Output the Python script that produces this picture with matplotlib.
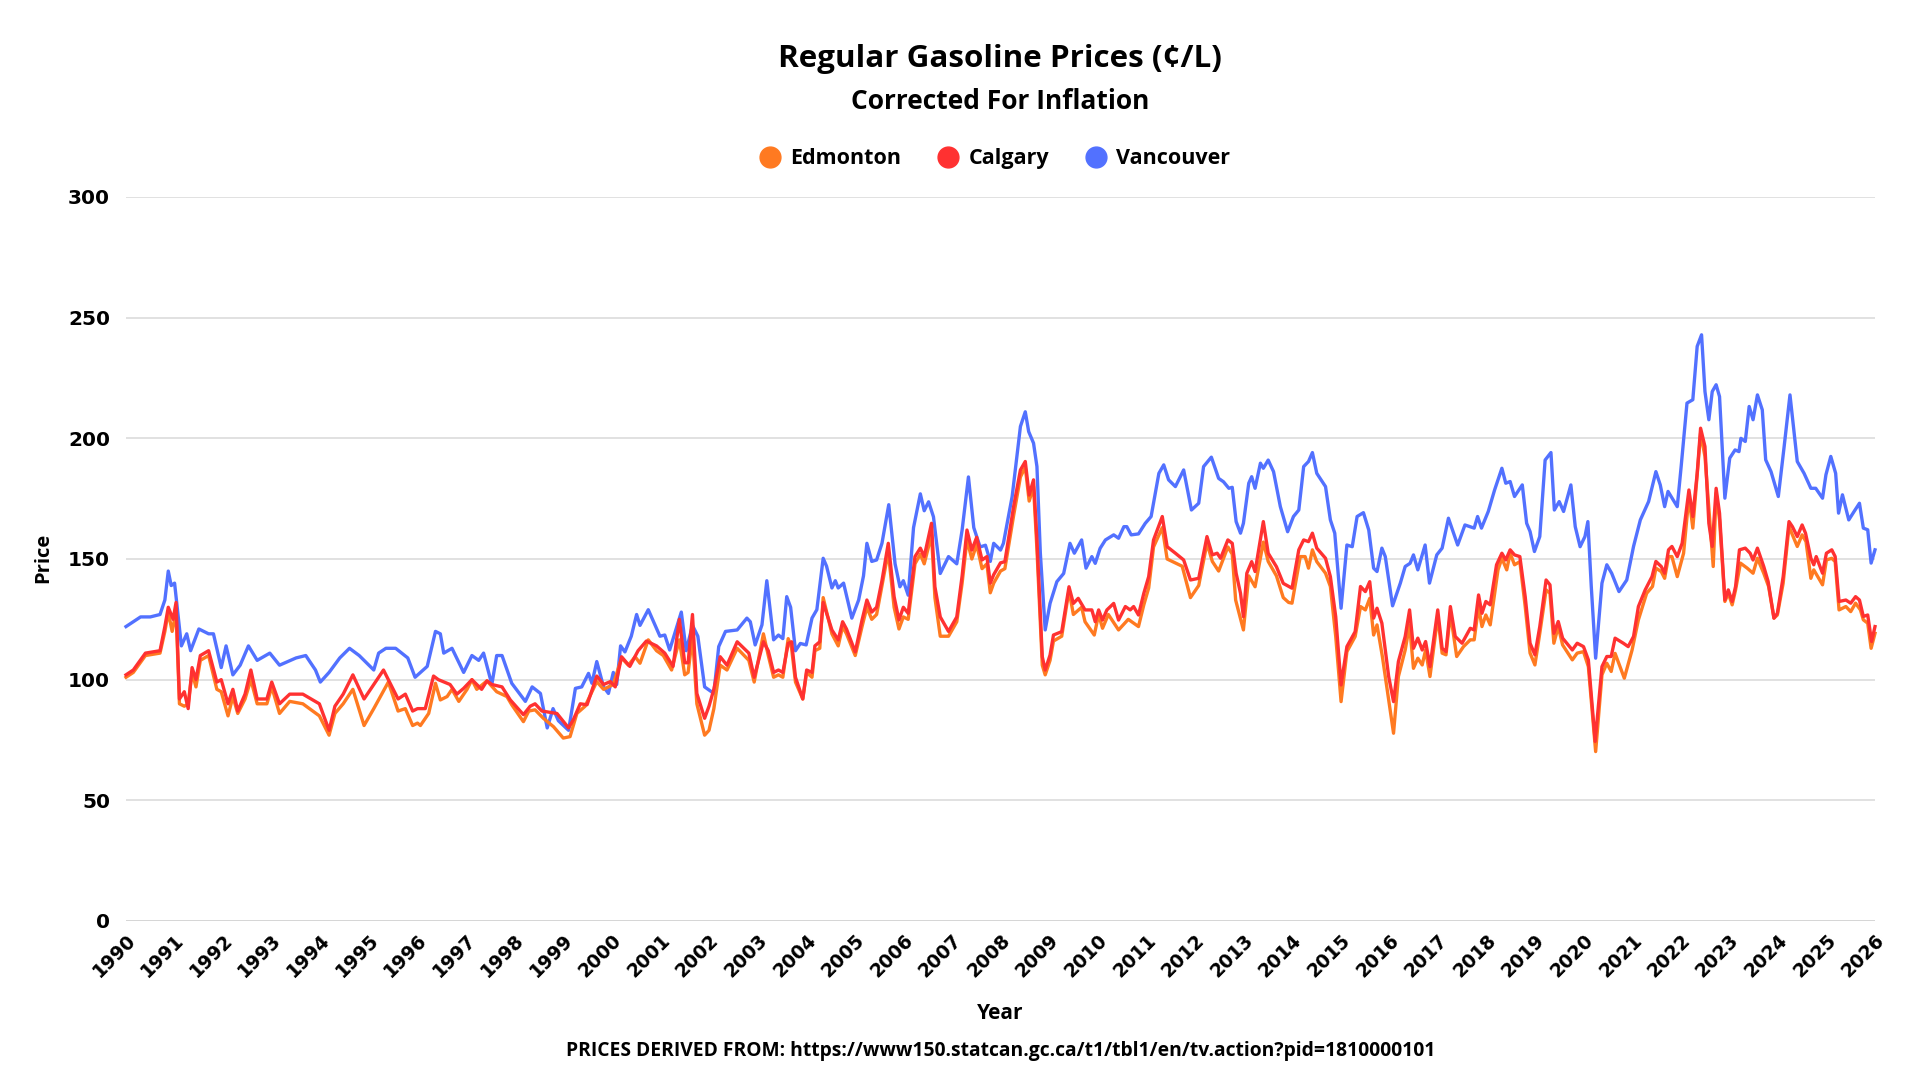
import numpy as np
import matplotlib.pyplot as plt
from matplotlib.lines import Line2D

plt.rcParams['font.family'] = ['Open Sans', 'DejaVu Sans']

title = "Regular Gasoline Prices (¢/L)"
subtitle = "Corrected For Inflation"
source = "PRICES DERIVED FROM: https://www150.statcan.gc.ca/t1/tbl1/en/tv.action?pid=1810000101"
cities = ["Edmonton", "Calgary", "Vancouver"]
colors = {"Edmonton": "#ff7a21", "Calgary": "#ff3131", "Vancouver": "#5271ff"}
years = list(range(1990, 2027))
y_ticks = [0, 50, 100, 150, 200, 250, 300]

# (decimal year, price in cents/L)
vancouver = [
    (1990.0, 122), (1990.15, 124), (1990.3, 126), (1990.5, 126), (1990.7, 127), (1990.8, 133),
    (1990.87, 145), (1990.93, 139), (1991.0, 140), (1991.14, 114), (1991.25, 119), (1991.33, 112),
    (1991.5, 121), (1991.7, 119), (1991.8, 119), (1991.96, 105), (1992.06, 114), (1992.2, 102),
    (1992.35, 106), (1992.52, 114), (1992.7, 108), (1992.96, 111), (1993.16, 106), (1993.5, 109),
    (1993.7, 110), (1993.9, 104), (1994.0, 99), (1994.18, 103), (1994.4, 109), (1994.6, 113),
    (1994.8, 110), (1995.1, 104), (1995.2, 111), (1995.35, 113), (1995.55, 113), (1995.8, 109),
    (1995.95, 101),
    (1996.2, 105.5), (1996.37, 120), (1996.47, 119), (1996.54, 111), (1996.71, 113), (1996.95, 103),
    (1997.12, 110), (1997.26, 108), (1997.36, 111), (1997.53, 98), (1997.63, 110), (1997.74, 110),
    (1997.94, 98.5), (1998.22, 91), (1998.36, 97), (1998.53, 94.3), (1998.67, 80), (1998.79, 88),
    (1998.9, 83), (1999.11, 79), (1999.25, 96.4), (1999.38, 97), (1999.52, 102.6), (1999.59, 98.5),
    (1999.69, 107.5), (1999.83, 97), (1999.93, 94.3), (2000.03, 103), (2000.1, 98), (2000.18, 114),
    (2000.27, 111.5), (2000.4, 118), (2000.51, 127), (2000.58, 122.5), (2000.75, 129), (2000.99, 118),
    (2001.09, 118.5), (2001.19, 112.3), (2001.43, 128), (2001.53, 112), (2001.66, 122.5), (2001.77, 118),
    (2001.91, 97),
    (2002.1, 94.3), (2002.2, 113.7), (2002.34, 120), (2002.58, 120.6), (2002.78, 125.5), (2002.85, 124),
    (2002.95, 114.4), (2003.09, 122.7), (2003.19, 141), (2003.33, 116.5), (2003.43, 118.5), (2003.52, 117),
    (2003.6, 134.4), (2003.68, 130), (2003.78, 112), (2003.88, 115), (2004.0, 114.4), (2004.12, 125.5),
    (2004.22, 129), (2004.35, 150.3), (2004.42, 147), (2004.53, 138), (2004.6, 141), (2004.66, 138),
    (2004.77, 140), (2004.94, 125.5), (2005.08, 133), (2005.18, 143), (2005.25, 156.5), (2005.35, 149),
    (2005.45, 149.6), (2005.56, 156.5), (2005.7, 172.5), (2005.83, 148), (2005.93, 138.5), (2006.0, 141),
    (2006.1, 135), (2006.21, 163), (2006.35, 177), (2006.43, 170), (2006.52, 173.7), (2006.62, 167.5),
    (2006.76, 144), (2006.93, 151), (2007.1, 148), (2007.21, 162), (2007.34, 184), (2007.45, 163),
    (2007.58, 155), (2007.69, 155.7), (2007.79, 149), (2007.86, 156.5), (2008.0, 153.7),
    (2008.06, 156.5), (2008.24, 175.9), (2008.41, 204.9), (2008.51, 211), (2008.58, 202.8), (2008.68, 198),
    (2008.75, 188.3), (2008.82, 152.4), (2008.92, 120.6), (2009.02, 131.6), (2009.16, 140.6), (2009.3, 144),
    (2009.43, 156.5), (2009.52, 152.4), (2009.67, 157.9), (2009.76, 146.2), (2009.88, 151), (2009.95, 148.2),
    (2010.05, 154.4), (2010.16, 157.9), (2010.33, 160), (2010.43, 158.6), (2010.54, 163.4), (2010.6, 163.4),
    (2010.69, 160), (2010.84, 160.4), (2010.98, 164.8), (2011.1, 167.6), (2011.26, 185.5), (2011.36, 189),
    (2011.46, 182.8), (2011.6, 180), (2011.77, 186.9), (2011.93, 170.3), (2012.08, 173.1), (2012.18, 188.3),
    (2012.34, 192.2), (2012.49, 183.4), (2012.59, 182), (2012.7, 179.3), (2012.77, 179.7), (2012.85, 165.5),
    (2012.94, 160.7), (2013.0, 164.8), (2013.11, 181.4), (2013.17, 184.1), (2013.24, 179.3), (2013.35, 189.7),
    (2013.41, 187.6), (2013.51, 191), (2013.62, 186.2), (2013.76, 171.7), (2013.91, 161.3), (2014.03, 167.6),
    (2014.14, 170.3), (2014.24, 188.3), (2014.34, 190.4), (2014.42, 194.1), (2014.51, 185.5), (2014.69, 180),
    (2014.79, 166.2), (2014.88, 160.7), (2015.01, 129.6), (2015.13, 155.8), (2015.24, 155.1), (2015.34, 167.6),
    (2015.47, 169.2), (2015.58, 162), (2015.68, 146.2), (2015.75, 144.8), (2015.85, 154.5), (2015.92, 151),
    (2016.07, 130.6), (2016.23, 140), (2016.33, 146.9), (2016.43, 148.2), (2016.5, 151.7), (2016.59, 145.5),
    (2016.74, 155.8), (2016.83, 140), (2016.98, 151.7), (2017.09, 154.5), (2017.22, 166.9), (2017.41, 155.8),
    (2017.56, 164.1), (2017.75, 162.8), (2017.82, 167.6), (2017.9, 162.8), (2018.04, 169.7), (2018.17, 178.6),
    (2018.32, 187.6), (2018.4, 181.4), (2018.49, 182.1), (2018.58, 175.9), (2018.74, 180.7), (2018.83, 164.8),
    (2018.9, 161.4), (2018.99, 153.1), (2019.1, 159.3), (2019.21, 191), (2019.33, 194.1), (2019.4, 170.3),
    (2019.5, 173.8), (2019.59, 169.7), (2019.74, 180.7), (2019.83, 163.4), (2019.93, 155.1), (2020.03, 159.3),
    (2020.09, 165.5), (2020.16, 138.6), (2020.25, 108.9), (2020.38, 140), (2020.48, 147.6), (2020.58, 144.1),
    (2020.73, 136.5), (2020.89, 141.3), (2021.03, 155.2), (2021.17, 166.2), (2021.34, 173.8), (2021.49, 186.2),
    (2021.58, 180.7), (2021.67, 171.7), (2021.74, 178), (2021.93, 171.7), (2022.01, 188.3), (2022.13, 214.6),
    (2022.25, 216), (2022.34, 238.1), (2022.43, 242.9), (2022.5, 219.4), (2022.58, 207.7), (2022.65, 219.4),
    (2022.73, 222.2), (2022.8, 217.3), (2022.91, 175.2), (2023.01, 191.8), (2023.12, 195.2), (2023.2, 194.5),
    (2023.24, 200), (2023.33, 198.7), (2023.41, 213.2), (2023.49, 207.7), (2023.58, 218), (2023.68, 211.8),
    (2023.75, 191.1), (2023.86, 186.2), (2024.01, 175.9), (2024.13, 196.6), (2024.25, 218), (2024.4, 190.4),
    (2024.54, 185.5), (2024.68, 179.3), (2024.78, 179.3), (2024.92, 175.2), (2024.99, 184.9), (2025.09, 192.5),
    (2025.19, 185.5), (2025.25, 169), (2025.33, 176.6), (2025.46, 166.2), (2025.57, 169.7), (2025.68, 173.1),
    (2025.76, 162.8), (2025.85, 162.1), (2025.92, 148.3), (2026.0, 153.8),
]

calgary = [
    (1990.0, 102), (1990.15, 104), (1990.4, 111), (1990.7, 112), (1990.8, 122), (1990.87, 130),
    (1990.97, 125), (1991.03, 132), (1991.1, 92), (1991.2, 95), (1991.28, 88), (1991.36, 105),
    (1991.44, 100), (1991.53, 110), (1991.7, 112), (1991.87, 99), (1991.96, 100), (1992.1, 90),
    (1992.2, 96), (1992.3, 87), (1992.45, 94), (1992.57, 104), (1992.7, 92), (1992.9, 92),
    (1993.0, 99), (1993.16, 90), (1993.37, 94), (1993.64, 94), (1993.98, 90), (1994.18, 79),
    (1994.3, 89), (1994.47, 94), (1994.67, 102), (1994.9, 92), (1995.3, 104), (1995.6, 92),
    (1995.75, 94), (1995.9, 87), (1996.0, 88),
    (1996.16, 88), (1996.33, 101.5), (1996.43, 100), (1996.67, 98), (1996.81, 94), (1996.95, 96.4),
    (1997.12, 100), (1997.22, 98), (1997.32, 96), (1997.43, 99.5), (1997.53, 98), (1997.74, 97),
    (1997.91, 91.6), (1998.18, 85.5), (1998.32, 89), (1998.42, 90), (1998.56, 87), (1998.87, 86),
    (1999.11, 80), (1999.21, 83.5), (1999.35, 90), (1999.49, 89.6), (1999.69, 101.5), (1999.83, 98),
    (1999.97, 99.2), (2000.07, 97), (2000.2, 109.5), (2000.37, 105.5), (2000.54, 112), (2000.71, 116),
    (2000.92, 114), (2001.09, 111), (2001.26, 105.5), (2001.39, 125), (2001.5, 107), (2001.57, 107),
    (2001.66, 127), (2001.75, 94.3), (2001.91, 84),
    (2002.0, 89), (2002.1, 96), (2002.23, 109.5), (2002.37, 106), (2002.58, 115.7), (2002.82, 111),
    (2002.93, 101), (2003.12, 115.7), (2003.22, 112), (2003.33, 103), (2003.43, 104), (2003.52, 103),
    (2003.63, 115), (2003.7, 115.7), (2003.78, 101), (2003.93, 92), (2004.01, 104), (2004.12, 103),
    (2004.18, 114), (2004.28, 115.7), (2004.35, 132), (2004.53, 120.6), (2004.66, 116.5), (2004.75, 124),
    (2004.83, 121), (2005.01, 111.5), (2005.15, 124.7), (2005.25, 133), (2005.35, 128), (2005.45, 130),
    (2005.56, 141), (2005.69, 156.5), (2005.81, 134.4), (2005.91, 124.7), (2006.0, 130), (2006.1, 127.5),
    (2006.24, 151), (2006.35, 154.5), (2006.43, 151), (2006.58, 164.8), (2006.65, 138.5), (2006.76, 126),
    (2006.93, 120), (2007.1, 126), (2007.21, 143), (2007.31, 162), (2007.41, 153.7), (2007.51, 159),
    (2007.62, 149.6), (2007.72, 151), (2007.79, 140), (2007.86, 143.5), (2008.0, 148.4),
    (2008.09, 148.9), (2008.27, 171.7), (2008.41, 186.9), (2008.51, 190.4), (2008.59, 176.5), (2008.68, 182.8),
    (2008.75, 157.9), (2008.86, 109.5), (2008.92, 104), (2009.02, 110.2), (2009.09, 118.5), (2009.26, 119.9),
    (2009.41, 138.5), (2009.5, 131.6), (2009.6, 133.7), (2009.74, 128.9), (2009.88, 128.9), (2009.95, 124),
    (2010.02, 128.9), (2010.1, 124.7), (2010.19, 128.9), (2010.33, 131.6), (2010.43, 124.7), (2010.57, 130.3),
    (2010.67, 128.9), (2010.74, 130.3), (2010.84, 126.8), (2010.95, 135.8), (2011.05, 142.7), (2011.15, 157.9),
    (2011.33, 167.6), (2011.43, 155.1), (2011.6, 152.4), (2011.77, 149.6), (2011.91, 141.3), (2012.08, 142),
    (2012.25, 159.3), (2012.36, 151.7), (2012.46, 152.4), (2012.53, 150.3), (2012.68, 157.9), (2012.77, 156.5),
    (2012.85, 144.1), (2012.94, 135.8), (2013.0, 126.1), (2013.07, 144.1), (2013.17, 148.9), (2013.24, 144.8),
    (2013.41, 165.5), (2013.51, 152.4), (2013.68, 146.8), (2013.82, 139.9), (2014.0, 137.9),
    (2014.14, 153.8), (2014.24, 157.9), (2014.34, 157.2), (2014.42, 160.7), (2014.51, 154.5), (2014.69, 150.3),
    (2014.79, 142.7), (2014.9, 126.1), (2015.01, 97.8), (2015.13, 113.7), (2015.3, 119.9), (2015.41, 138.6),
    (2015.51, 136.5), (2015.6, 140.6), (2015.68, 125.5), (2015.75, 129.6), (2015.85, 123.4), (2015.99, 101.3),
    (2016.09, 90.9), (2016.19, 107.5), (2016.33, 117.9), (2016.42, 128.9), (2016.5, 113), (2016.59, 117.2),
    (2016.68, 112.3), (2016.75, 115.8), (2016.84, 105.4), (2017.0, 128.9), (2017.09, 113), (2017.17, 111.6),
    (2017.26, 130.3), (2017.36, 117.9), (2017.5, 115.1), (2017.67, 121.3), (2017.75, 120.6), (2017.84, 135.1),
    (2017.91, 127.5), (2017.99, 132.4), (2018.08, 131), (2018.21, 147.6), (2018.32, 152.4), (2018.4, 149.6),
    (2018.49, 153.8), (2018.58, 151.7), (2018.69, 151), (2018.8, 134.4), (2018.9, 115.1), (2019.0, 110.3),
    (2019.1, 122), (2019.23, 141.3), (2019.31, 139.3), (2019.39, 119.2), (2019.48, 124.1), (2019.57, 117.2),
    (2019.77, 112.3), (2019.87, 115.1), (2020.0, 113.7),
    (2020.1, 108.2), (2020.24, 74.4), (2020.38, 105.4), (2020.48, 109.6), (2020.57, 109.6), (2020.65, 117.2),
    (2020.82, 115.1), (2020.92, 113.7), (2021.03, 117.9), (2021.13, 130.3), (2021.27, 137.2), (2021.41, 142.7),
    (2021.49, 149), (2021.6, 146.9), (2021.67, 144.1), (2021.75, 153.8), (2021.82, 155.2), (2021.93, 151),
    (2022.03, 156.5), (2022.17, 178.6), (2022.25, 167.6), (2022.34, 185.5), (2022.41, 204.2), (2022.5, 196.6),
    (2022.58, 164.8), (2022.65, 155.2), (2022.73, 179.3), (2022.8, 169), (2022.91, 133), (2022.98, 137.2),
    (2023.06, 132.4), (2023.13, 138.6), (2023.21, 153.8), (2023.33, 154.5), (2023.43, 152.4), (2023.49, 149.6),
    (2023.58, 154.5), (2023.71, 146.9), (2023.8, 140.7), (2023.92, 125.5), (2023.99, 127.5), (2024.11, 142.7),
    (2024.23, 165.5), (2024.3, 163.4), (2024.4, 159.3), (2024.5, 164.1), (2024.57, 160.7), (2024.68, 150.3),
    (2024.74, 147.6), (2024.79, 151), (2024.92, 144.1), (2025.0, 152.4), (2025.11, 153.8), (2025.18, 151),
    (2025.26, 132.4), (2025.4, 133), (2025.5, 131.7), (2025.6, 134.4), (2025.68, 133), (2025.76, 126.2),
    (2025.85, 126.8), (2025.93, 115.8), (2026.0, 122),
]

edmonton = [
    (1990.0, 101), (1990.15, 103), (1990.4, 110), (1990.7, 111), (1990.8, 120), (1990.87, 128),
    (1990.95, 120), (1991.03, 128), (1991.1, 90), (1991.2, 89), (1991.28, 90), (1991.36, 103),
    (1991.44, 97), (1991.53, 108), (1991.7, 110), (1991.87, 96), (1991.96, 95), (1992.1, 85),
    (1992.2, 93), (1992.3, 86), (1992.45, 92), (1992.57, 100), (1992.7, 90), (1992.9, 90),
    (1993.0, 97), (1993.16, 86), (1993.37, 91), (1993.64, 90), (1993.98, 85), (1994.18, 77),
    (1994.3, 86), (1994.47, 90), (1994.67, 96), (1994.9, 81), (1995.1, 88), (1995.4, 99),
    (1995.6, 87), (1995.75, 88), (1995.9, 81), (1996.0, 82),
    (1996.06, 81), (1996.23, 86), (1996.37, 98.5), (1996.47, 91.6), (1996.61, 93), (1996.71, 96),
    (1996.85, 91), (1997.02, 96), (1997.12, 100), (1997.22, 96), (1997.43, 99.5), (1997.63, 95),
    (1997.84, 93), (1997.94, 89.6), (1998.18, 82.6), (1998.29, 87), (1998.42, 87.5), (1998.59, 84),
    (1998.8, 80.5), (1999.0, 75.8), (1999.14, 76.4), (1999.28, 86), (1999.45, 89), (1999.69, 99.2),
    (1999.83, 96), (2000.03, 98), (2000.2, 109), (2000.34, 106), (2000.48, 109.5), (2000.58, 106.8),
    (2000.75, 116.5), (2000.92, 112), (2001.06, 110), (2001.23, 104), (2001.39, 116.5), (2001.5, 102),
    (2001.57, 103), (2001.66, 118), (2001.75, 90), (2001.91, 77),
    (2002.0, 79), (2002.1, 88), (2002.23, 106), (2002.37, 104), (2002.58, 113), (2002.82, 108),
    (2002.93, 99), (2003.12, 119), (2003.22, 110), (2003.33, 101), (2003.43, 102), (2003.52, 101),
    (2003.63, 117), (2003.7, 113), (2003.78, 99), (2003.93, 92), (2004.01, 103), (2004.12, 101),
    (2004.18, 112), (2004.28, 113), (2004.35, 134), (2004.53, 119), (2004.66, 114), (2004.75, 122),
    (2004.83, 119), (2005.01, 110), (2005.15, 122), (2005.25, 130), (2005.35, 125), (2005.45, 127),
    (2005.56, 139), (2005.69, 153), (2005.81, 130), (2005.91, 121), (2006.0, 126), (2006.1, 125),
    (2006.24, 148), (2006.35, 152), (2006.43, 148), (2006.58, 160), (2006.65, 134), (2006.76, 118),
    (2006.93, 118), (2007.1, 124), (2007.21, 140), (2007.31, 158), (2007.41, 150), (2007.51, 156),
    (2007.62, 146), (2007.72, 148), (2007.79, 136), (2007.86, 140), (2008.0, 145),
    (2008.09, 146), (2008.27, 168), (2008.41, 184), (2008.51, 188), (2008.59, 174), (2008.68, 180),
    (2008.75, 154), (2008.86, 106), (2008.92, 102), (2009.02, 108), (2009.09, 116), (2009.26, 118),
    (2009.41, 137), (2009.5, 127), (2009.67, 130), (2009.74, 124), (2009.93, 118.5), (2010.02, 127),
    (2010.1, 121.3), (2010.22, 127), (2010.43, 120.6), (2010.63, 125), (2010.84, 122), (2010.95, 131),
    (2011.05, 138), (2011.15, 155), (2011.33, 163), (2011.43, 150), (2011.74, 147), (2011.91, 134),
    (2012.08, 139), (2012.25, 156.5), (2012.36, 149), (2012.49, 145), (2012.68, 155), (2012.77, 152),
    (2012.84, 133), (2013.0, 120.6), (2013.11, 143), (2013.24, 138.5), (2013.41, 157), (2013.51, 149),
    (2013.68, 143), (2013.82, 134), (2013.93, 132), (2014.0, 131.7),
    (2014.17, 151), (2014.27, 151), (2014.34, 146.2), (2014.42, 153.8), (2014.51, 148.9), (2014.69, 144.1),
    (2014.79, 138.6), (2014.9, 117.9), (2015.01, 90.9), (2015.13, 111.6), (2015.3, 117.9), (2015.41, 130.3),
    (2015.51, 128.9), (2015.6, 133.7), (2015.68, 118.5), (2015.75, 122.7), (2015.86, 109.6), (2015.99, 91.6),
    (2016.09, 77.8), (2016.19, 101.3), (2016.33, 112.3), (2016.42, 122.7), (2016.5, 104.7), (2016.59, 108.9),
    (2016.68, 106.1), (2016.75, 112.3), (2016.84, 101.3), (2017.0, 126.1), (2017.09, 111), (2017.17, 110.3),
    (2017.26, 127.5), (2017.39, 109.6), (2017.53, 113.7), (2017.67, 116.5), (2017.75, 116.5), (2017.84, 130.3),
    (2017.91, 122), (2017.99, 126.8), (2018.08, 122.7), (2018.24, 145.5), (2018.32, 150.3), (2018.42, 145.5),
    (2018.49, 152.4), (2018.58, 147.6), (2018.69, 148.9), (2018.8, 130.3), (2018.9, 111), (2019.0, 106.1),
    (2019.1, 119.2), (2019.23, 137.2), (2019.31, 135.8), (2019.39, 115.1), (2019.48, 122), (2019.57, 114.4),
    (2019.77, 108.2), (2019.87, 111), (2020.0, 111.6),
    (2020.1, 105.4), (2020.25, 70.2), (2020.38, 102), (2020.48, 106.8), (2020.57, 103.4), (2020.65, 110.9),
    (2020.84, 100.6), (2021.0, 112.3), (2021.13, 124.8), (2021.3, 135.8), (2021.42, 138.6), (2021.49, 146.2),
    (2021.6, 144.8), (2021.67, 142), (2021.75, 151), (2021.82, 151), (2021.93, 142.7), (2022.06, 152.4),
    (2022.17, 175.9), (2022.25, 162.8), (2022.41, 202.1), (2022.5, 192.5), (2022.67, 146.9), (2022.73, 177.3),
    (2022.8, 166.2), (2022.91, 132.4), (2022.98, 135.8), (2023.06, 131), (2023.13, 137.2), (2023.23, 148.3),
    (2023.37, 146.2), (2023.49, 144.1), (2023.58, 150.3), (2023.71, 144.1), (2023.81, 138.6), (2023.92, 125.5),
    (2023.99, 126.8), (2024.11, 140), (2024.23, 163.4), (2024.4, 155.2), (2024.5, 160), (2024.58, 157.2),
    (2024.68, 142), (2024.74, 145.5), (2024.92, 139.3), (2025.0, 149.6), (2025.11, 150.3), (2025.18, 148.9),
    (2025.26, 128.9), (2025.4, 130.3), (2025.5, 128.2), (2025.6, 131.7), (2025.7, 128.9), (2025.76, 124.8),
    (2025.85, 123.4), (2025.92, 113), (2026.0, 119.2),
]

series = {"Edmonton": edmonton, "Calgary": calgary, "Vancouver": vancouver}

fig = plt.figure(figsize=(19.2, 10.8), dpi=100)
ax = fig.add_axes([126 / 1920, 1 - 921 / 1080, (1875 - 126) / 1920, (921 - 197) / 1080])

# vancouver at the back, calgary on top
for name in ["Vancouver", "Edmonton", "Calgary"]:
    t, p = zip(*series[name])
    ax.plot(t, p, color=colors[name], lw=2.4, solid_joinstyle='round', clip_on=False, zorder=3)

ax.set_xlim(1990, 2026)
ax.set_ylim(0, 300)
ax.set_xticks(years)
ax.set_xticklabels([str(y) for y in years], rotation=45, ha='right', va='top', rotation_mode='anchor')
ax.set_yticks(y_ticks)
ax.set_yticklabels([str(v) for v in y_ticks])
# tick digits are a wide geometric face in the original, DejaVu is closest
for lbl in ax.get_xticklabels():
    lbl.set_fontfamily('DejaVu Sans')
    lbl.set_fontweight('bold')
    lbl.set_fontsize(13.5)
for lbl in ax.get_yticklabels():
    lbl.set_fontfamily('DejaVu Sans')
    lbl.set_fontweight('bold')
    lbl.set_fontsize(14.5)
ax.tick_params(axis='both', length=0)
ax.tick_params(axis='x', pad=7)
ax.tick_params(axis='y', pad=11.5)
for s in ax.spines.values():
    s.set_visible(False)
ax.grid(axis='y', color='#dcdcdc', lw=1.2, zorder=0)
ax.axhline(0, color='#bdbdbd', lw=1.4, zorder=1)

fig.text(0.521, 0.945, title, ha='center', va='center', fontsize=22.6, fontweight='bold')
fig.text(0.521, 0.906, subtitle, ha='center', va='center', fontsize=19, fontweight='bold')
fig.text(0.521, 0.062, "Year", ha='center', va='center', fontsize=15, fontweight='bold')
fig.text(0.0225, 0.483, "Price", ha='center', va='center', rotation=90, fontsize=14.5, fontweight='bold')
fig.text(0.521, 0.027, source, ha='center', va='center', fontsize=13.9, fontweight='bold')

handles = [Line2D([], [], ls='none', marker='o', markersize=15, color=colors[c]) for c in cities]
leg = fig.legend(handles, cities, loc='center', bbox_to_anchor=(0.518, 0.853), ncol=3,
                 frameon=False, handlelength=1.0, handletextpad=0.45, columnspacing=1.67,
                 prop={'size': 15.5, 'weight': 'bold'})

fig.savefig('out.png', dpi=100, facecolor='white')
